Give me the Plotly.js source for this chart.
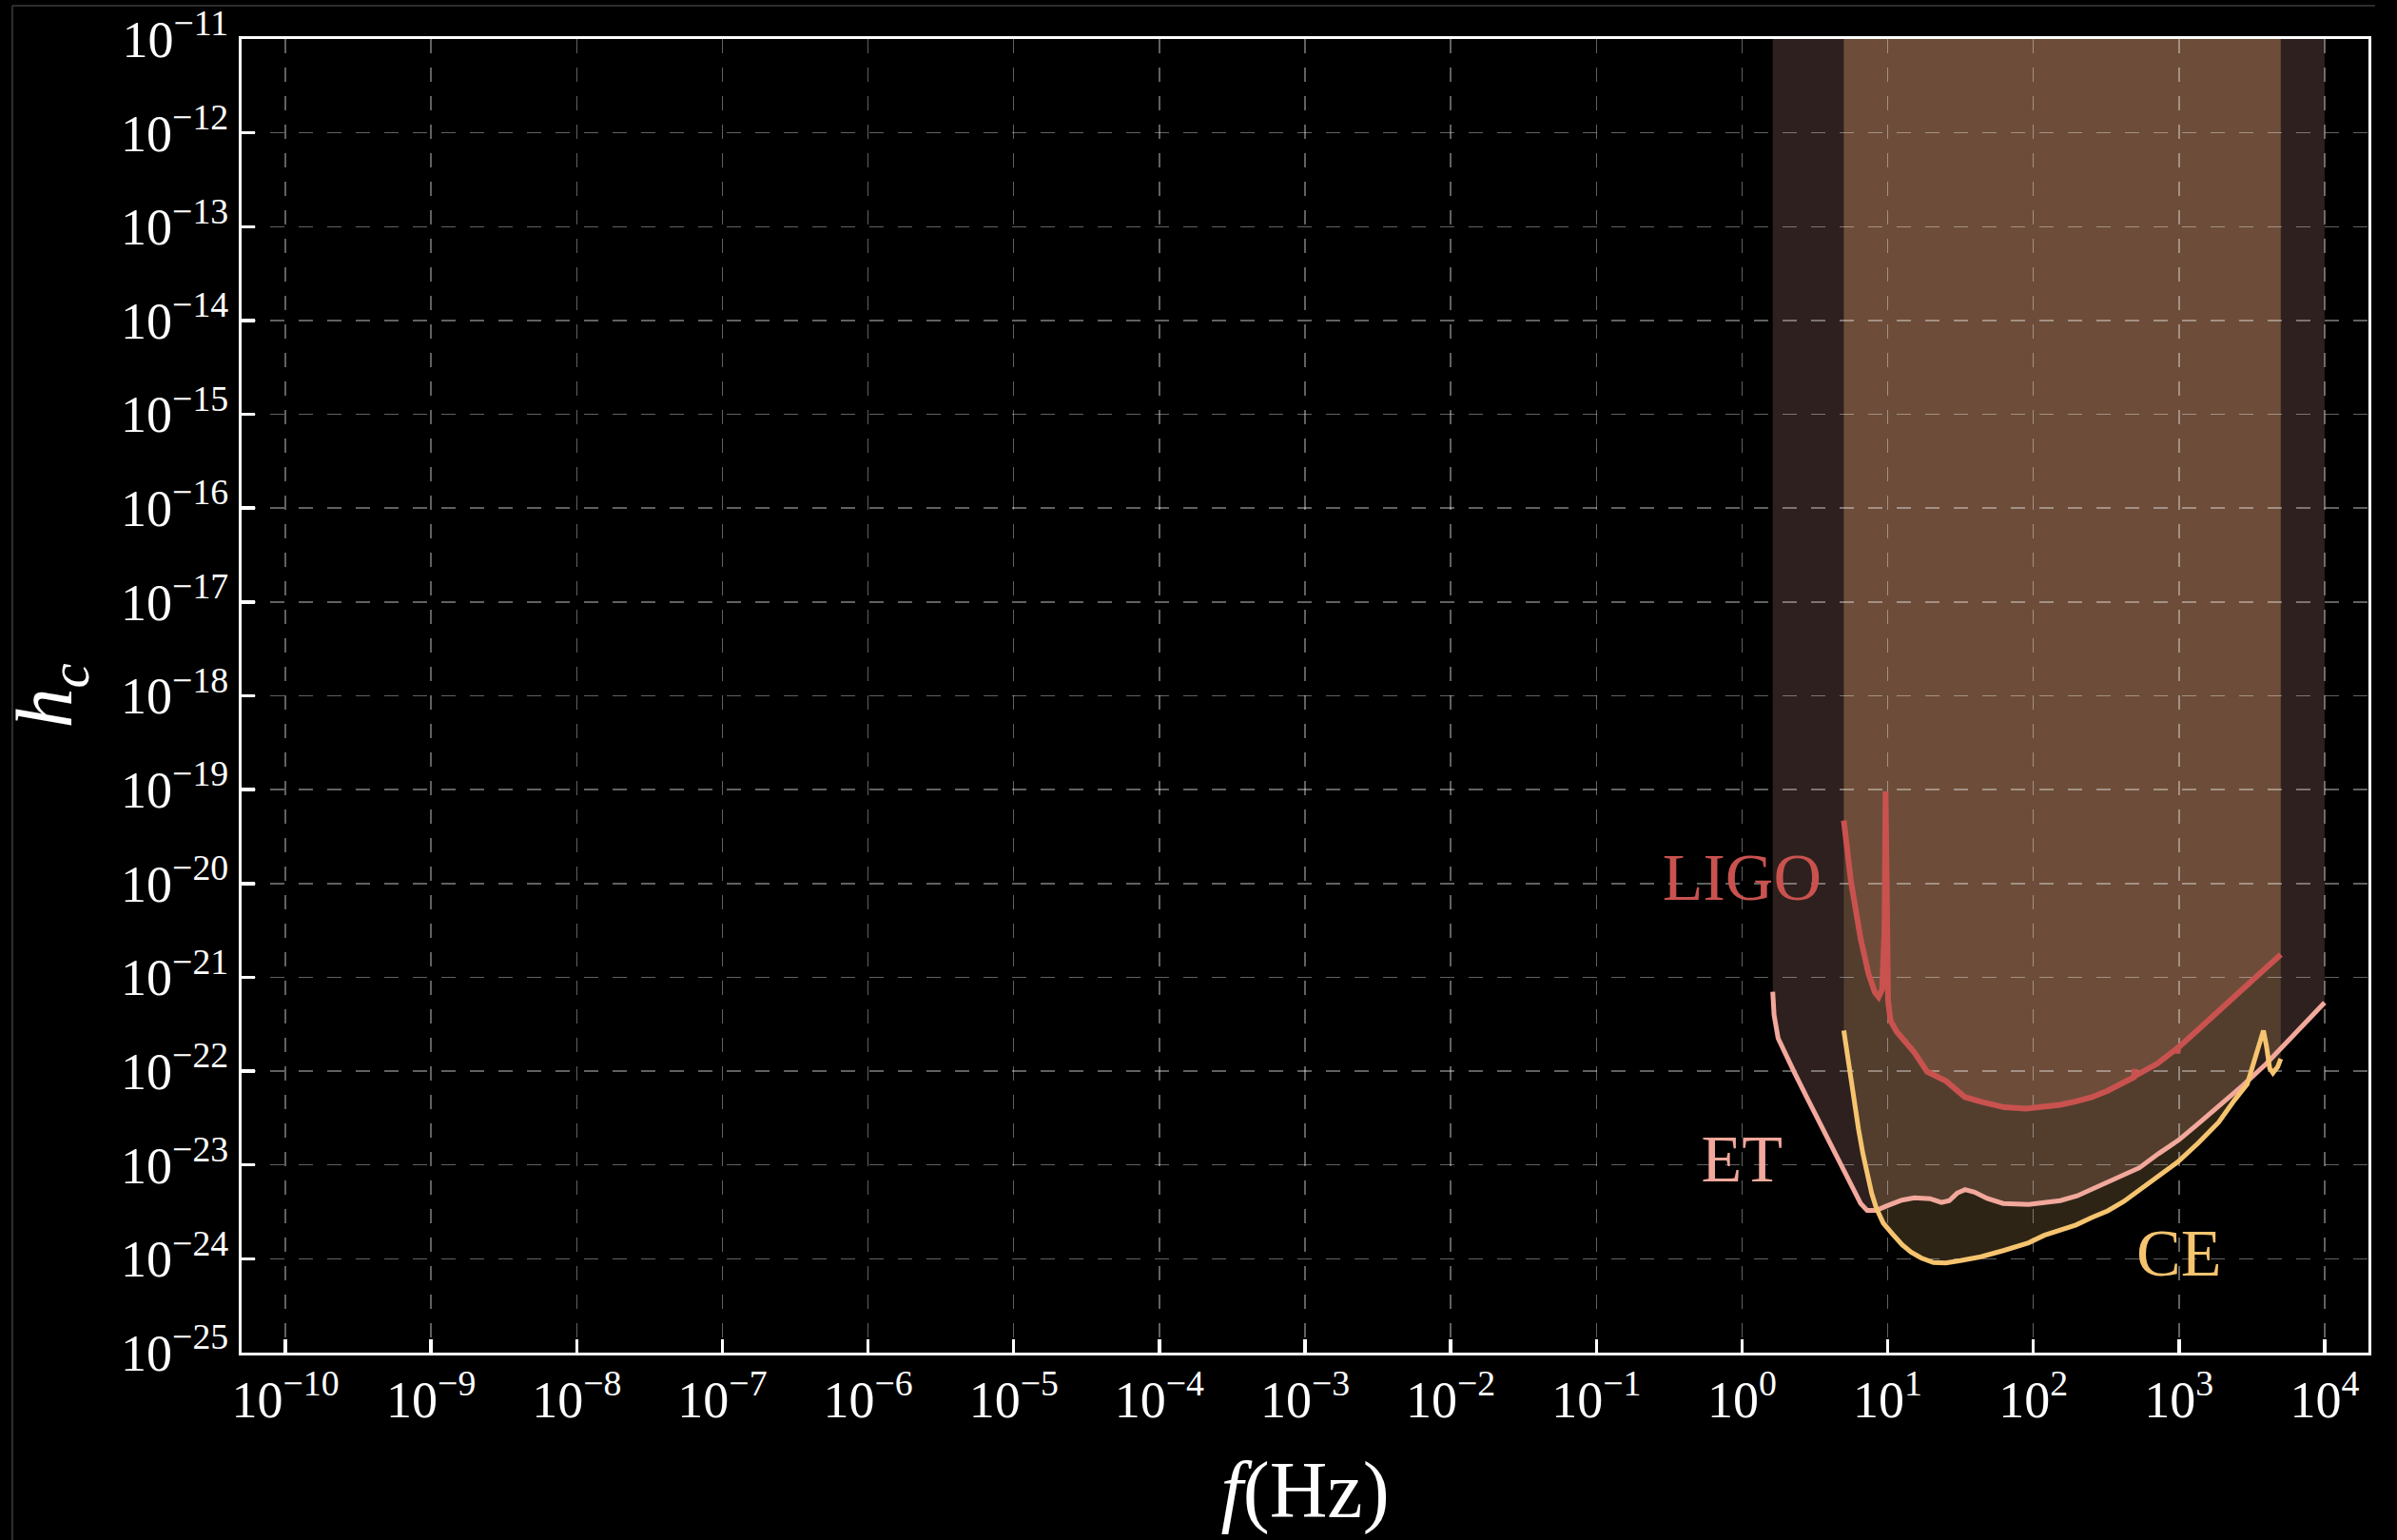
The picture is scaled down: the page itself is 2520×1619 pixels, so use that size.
<!DOCTYPE html>
<html>
<head>
<meta charset="utf-8">
<script src="https://cdn.plot.ly/plotly-3.0.1.min.js"></script>
<style>
html, body { margin: 0; padding: 0; background: #000; }
#chart { width: 2520px; height: 1619px; }
</style>
</head>
<body>
<div id="chart"></div>
<script>
// ---- data (frequency in Hz, characteristic strain h_c) ----
const ligoF = [5.0, 5.60, 6.52, 7.38, 8.17, 8.67, 9.16, 9.51, 9.68, 9.86, 10.07, 10.47, 11.59, 15.24, 18.66, 25.2, 34.0, 44.7, 63.1, 89.1, 119, 153, 200, 252, 324, 398, 490, 495.5, 501, 708, 966, 977, 989, 1349, 1871, 3090, 5000];
const ligoH = [4.68e-20, 1.05e-20, 2.59e-21, 1.10e-21, 6.92e-22, 6.17e-22, 7.41e-22, 3.16e-21, 9.55e-20, 1.58e-21, 5.62e-22, 3.43e-22, 2.61e-22, 1.585e-22, 9.86e-23, 7.82e-23, 5.28e-23, 4.68e-23, 4.12e-23, 3.98e-23, 4.19e-23, 4.37e-23, 4.79e-23, 5.28e-23, 6.17e-23, 7.24e-23, 8.61e-23, 1.05e-22, 8.91e-23, 1.20e-22, 1.74e-22, 1.55e-22, 1.78e-22, 2.75e-22, 4.33e-22, 8.71e-22, 1.75e-21];

const etF = [1.626, 1.66, 1.77, 1.96, 2.275, 2.78, 3.40, 4.15, 4.94, 5.89, 6.52, 7.24, 8.36, 9.73, 12.5, 15.24, 19.6, 23.4, 26.5, 30.0, 34.0, 39.5, 48.3, 62.1, 92.7, 119, 153, 200, 252, 324, 417, 535, 724, 1000, 1380, 1871, 2754, 3981, 6310, 10000];
const etH = [7.00e-22, 3.98e-22, 2.24e-22, 1.585e-22, 9.86e-23, 5.28e-23, 2.84e-23, 1.52e-23, 8.83e-24, 5.13e-24, 3.89e-24, 3.27e-24, 3.27e-24, 3.63e-24, 4.22e-24, 4.47e-24, 4.37e-24, 3.98e-24, 4.17e-24, 5.01e-24, 5.46e-24, 5.13e-24, 4.39e-24, 3.89e-24, 3.80e-24, 3.98e-24, 4.17e-24, 4.68e-24, 5.50e-24, 6.76e-24, 7.94e-24, 9.33e-24, 1.32e-23, 1.85e-23, 2.82e-23, 4.19e-23, 7.08e-23, 1.20e-22, 2.51e-22, 5.37e-22];

const ceF = [5.0, 5.25, 5.60, 5.89, 6.31, 6.76, 7.19, 7.76, 8.36, 9.33, 10.74, 12.59, 14.5, 17.0, 20.6, 25.1, 31.6, 43.7, 63.1, 92.7, 119, 153, 196, 252, 324, 417, 535, 724, 977, 1349, 1871, 2404, 2938, 3350, 3614, 3802, 3990, 4198, 4416, 4764, 5000];
const ceH = [2.71e-22, 1.585e-22, 8.51e-23, 4.68e-23, 2.40e-23, 1.32e-23, 8.17e-24, 5.01e-24, 3.47e-24, 2.40e-24, 1.86e-24, 1.41e-24, 1.175e-24, 1.02e-24, 9.12e-25, 9.02e-25, 9.55e-25, 1.05e-24, 1.23e-24, 1.48e-24, 1.78e-24, 2.00e-24, 2.29e-24, 2.75e-24, 3.24e-24, 4.07e-24, 5.37e-24, 7.59e-24, 1.07e-23, 1.70e-23, 2.84e-23, 4.90e-23, 7.24e-23, 1.41e-22, 2.14e-22, 2.71e-22, 1.84e-22, 1.07e-22, 9.55e-23, 1.11e-22, 1.35e-22];

// detector names and where they are written
const labelText = ['LIGO', 'ET', 'CE'];
const labelF = [1, 1, 1000];
const labelH = [1e-20, 1e-23, 1e-24];

// axes
const fRange = [5e-11, 2e4];
const hRange = [1e-25, 1e-11];
const xTickVals = [1e-10, 1e-9, 1e-8, 1e-7, 1e-6, 1e-5, 1e-4, 1e-3, 1e-2, 1e-1, 1e0, 1e1, 1e2, 1e3, 1e4];
const xTickText = ['10<sup>−10</sup>', '10<sup>−9</sup>', '10<sup>−8</sup>', '10<sup>−7</sup>', '10<sup>−6</sup>', '10<sup>−5</sup>', '10<sup>−4</sup>', '10<sup>−3</sup>', '10<sup>−2</sup>', '10<sup>−1</sup>', '10<sup>0</sup>', '10<sup>1</sup>', '10<sup>2</sup>', '10<sup>3</sup>', '10<sup>4</sup>'];
const yTickVals = [1e-25, 1e-24, 1e-23, 1e-22, 1e-21, 1e-20, 1e-19, 1e-18, 1e-17, 1e-16, 1e-15, 1e-14, 1e-13, 1e-12, 1e-11];
const yTickText = ['10<sup>−25</sup>', '10<sup>−24</sup>', '10<sup>−23</sup>', '10<sup>−22</sup>', '10<sup>−21</sup>', '10<sup>−20</sup>', '10<sup>−19</sup>', '10<sup>−18</sup>', '10<sup>−17</sup>', '10<sup>−16</sup>', '10<sup>−15</sup>', '10<sup>−14</sup>', '10<sup>−13</sup>', '10<sup>−12</sup>', '10<sup>−11</sup>'];

// ---- styling ----
const FONT = '"Liberation Serif", "DejaVu Serif", serif';
const col = { ligo: '#c9524f', et: '#f2a89b', ce: '#f6c46f' };
const fillCol = { ligo: 'rgba(224,144,107,0.19)', et: 'rgba(242,168,158,0.19)', ce: 'rgba(242,189,116,0.19)' };

function band(f, h, color) {
  return {
    x: f.concat([f[f.length - 1], f[0]]),
    y: h.concat([hRange[1], hRange[1]]),
    xaxis: 'x', yaxis: 'y',
    mode: 'lines', fill: 'toself', fillcolor: color,
    line: { width: 0, color: 'rgba(0,0,0,0)' },
    hoverinfo: 'skip', showlegend: false
  };
}
function curve(f, h, color, w) {
  return {
    x: f, y: h, xaxis: 'x2', yaxis: 'y2',
    mode: 'lines', line: { color: color, width: w },
    hoverinfo: 'skip', showlegend: false
  };
}

const traces = [
  band(etF, etH, fillCol.et),
  band(ceF, ceH, fillCol.ce),
  band(ligoF, ligoH, fillCol.ligo),
  curve(ligoF, ligoH, col.ligo, 6),
  curve(etF, etH, col.et, 5),
  curve(ceF, ceH, col.ce, 5),
  {
    x: labelF, y: labelH, text: labelText, xaxis: 'x2', yaxis: 'y2',
    mode: 'text', textposition: 'middle center', cliponaxis: false,
    textfont: { family: FONT, size: 70, color: [col.ligo, col.et, col.ce] },
    hoverinfo: 'skip', showlegend: false
  }
];

const logR = r => [Math.log10(r[0]), Math.log10(r[1])];
const hidden = { type: 'log', visible: false, showgrid: false, zeroline: false, fixedrange: true };

const layout = {
  width: 2520, height: 1619,
  margin: { l: 254, r: 30, t: 41, b: 197, pad: 0 },
  paper_bgcolor: '#000000',
  plot_bgcolor: 'rgba(0,0,0,0)',
  showlegend: false,
  hovermode: false,
  xaxis: Object.assign({}, hidden, { range: logR(fRange), domain: [0, 1], anchor: 'y' }),
  yaxis: Object.assign({}, hidden, { range: logR(hRange), domain: [0, 1], anchor: 'x' }),
  xaxis2: {
    type: 'log', range: logR(fRange), domain: [0, 1], anchor: 'y2',
    tickmode: 'array', tickvals: xTickVals, ticktext: xTickText,
    ticks: 'inside', ticklen: 14, tickwidth: 3.5, tickcolor: '#ffffff',
    showline: true, linecolor: '#ffffff', linewidth: 3, mirror: true,
    showgrid: true, gridcolor: 'rgba(255,255,255,0.38)', gridwidth: 1.5, griddash: '15px,15px',
    zeroline: false,
    tickfont: { family: FONT, size: 54, color: '#ffffff' },
    title: { text: '<i>f</i>(Hz)', font: { family: FONT, size: 84, color: '#ffffff' }, standoff: 36 },
    automargin: false
  },
  yaxis2: {
    type: 'log', range: logR(hRange), domain: [0, 1], anchor: 'x2',
    tickmode: 'array', tickvals: yTickVals, ticktext: yTickText,
    ticks: 'inside', ticklen: 14, tickwidth: 3.5, tickcolor: '#ffffff',
    showline: true, linecolor: '#ffffff', linewidth: 3, mirror: true,
    showgrid: true, gridcolor: 'rgba(255,255,255,0.38)', gridwidth: 1.5, griddash: '15px,15px',
    zeroline: false,
    tickfont: { family: FONT, size: 54, color: '#ffffff' },
    title: { text: '<i>h</i><sub><i>c</i></sub>', font: { family: FONT, size: 84, color: '#ffffff' }, standoff: 36 },
    automargin: false
  },
  shapes: [
    { type: 'line', xref: 'paper', yref: 'paper', x0: -0.1078, x1: 1.0031, y0: 1.0253, y1: 1.0253, line: { color: '#3c3c3c', width: 1.5 } },
    { type: 'line', xref: 'paper', yref: 'paper', x0: -0.1078, x1: -0.1078, y0: 1.0253, y1: -0.2, line: { color: '#3c3c3c', width: 1.5 } }
  ]
};

Plotly.newPlot('chart', traces, layout, { staticPlot: true, displayModeBar: false });
</script>
</body>
</html>
